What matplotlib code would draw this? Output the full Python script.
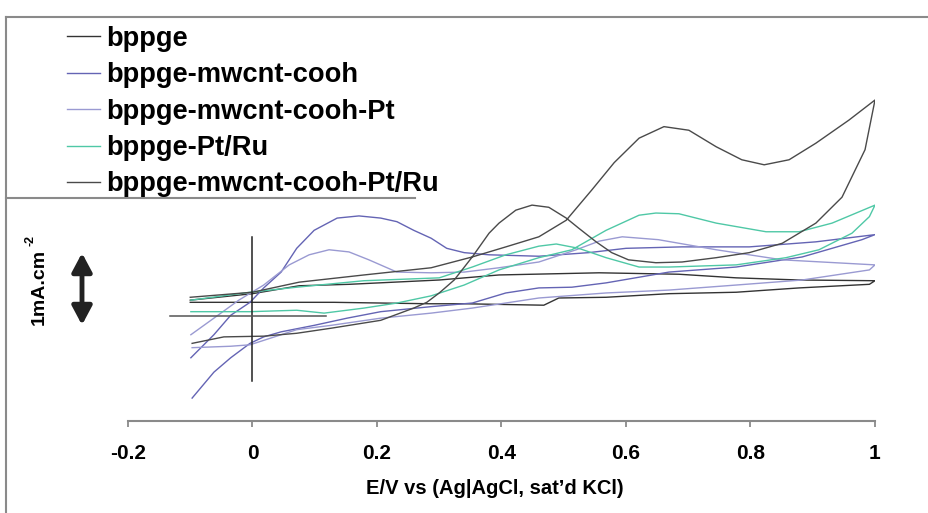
# %%
import matplotlib
matplotlib.use("Agg")
from matplotlib import pyplot as plt
from matplotlib.lines import Line2D

# %%
# cyclic voltammograms, potential in V vs Ag|AgCl, current density in mA cm-2
# each curve = forward (anodic) sweep -0.1 -> 1.0 V, then the reverse sweep back

# bppge
bppge_E = [-0.10, 0.00, 0.075, 0.155, 0.30, 0.396, 0.557, 0.685, 0.777, 0.878, 1.00,
           0.991, 0.878, 0.777, 0.669, 0.568, 0.492, 0.468, 0.34, 0.284, 0.131, -0.004, -0.10]
bppge_I = [0.22, 0.31, 0.42, 0.44, 0.50, 0.57, 0.60, 0.58, 0.53, 0.50, 0.49,
           0.44, 0.39, 0.33, 0.31, 0.26, 0.25, 0.15, 0.17, 0.17, 0.19, 0.19, 0.19]

# bppge-mwcnt-cooh
cooh_E = [-0.099, -0.062, -0.035, -0.004, 0.018, 0.046, 0.071, 0.099, 0.136, 0.171, 0.206,
          0.232, 0.259, 0.287, 0.312, 0.34, 0.38, 0.46, 0.54, 0.60, 0.69, 0.798, 0.905, 1.00,
          0.979, 0.883, 0.777, 0.669, 0.568, 0.513, 0.46, 0.407, 0.353, 0.287, 0.206, 0.152,
          0.099, 0.046, 0.018, -0.004, -0.035, -0.062, -0.097]
cooh_I = [-0.58, -0.26, 0.01, 0.19, 0.39, 0.61, 0.94, 1.19, 1.36, 1.39, 1.36,
          1.31, 1.19, 1.08, 0.94, 0.88, 0.85, 0.83, 0.88, 0.94, 0.96, 0.96, 1.03, 1.13,
          1.06, 0.82, 0.68, 0.61, 0.46, 0.40, 0.39, 0.32, 0.18, 0.13, 0.06, -0.03,
          -0.13, -0.22, -0.29, -0.38, -0.58, -0.78, -1.14]

# bppge-mwcnt-cooh-Pt
pt_E = [-0.099, -0.062, -0.022, 0.018, 0.059, 0.091, 0.123, 0.155, 0.187, 0.232, 0.287,
        0.34, 0.396, 0.46, 0.52, 0.557, 0.594, 0.652, 0.745, 0.851, 1.00,
        0.991, 0.883, 0.777, 0.669, 0.568, 0.46, 0.353, 0.287, 0.206, 0.126, 0.071,
        -0.004, -0.035, -0.097]
pt_I = [-0.26, -0.03, 0.22, 0.43, 0.71, 0.85, 0.92, 0.89, 0.78, 0.61, 0.60,
        0.61, 0.67, 0.75, 0.92, 1.04, 1.10, 1.06, 0.92, 0.78, 0.71,
        0.64, 0.50, 0.43, 0.36, 0.32, 0.25, 0.11, 0.04, -0.03, -0.13, -0.19,
        -0.40, -0.42, -0.44]

# bppge-Pt/Ru
ptru_E = [-0.099, -0.004, 0.071, 0.115, 0.179, 0.232, 0.287, 0.34, 0.396, 0.46, 0.513,
          0.568, 0.621, 0.648, 0.685, 0.745, 0.825, 0.878, 0.931, 1.00,
          0.991, 0.963, 0.91, 0.857, 0.777, 0.669, 0.621, 0.568, 0.524, 0.488, 0.46,
          0.407, 0.353, 0.30, 0.179, 0.071, -0.004, -0.099]
ptru_I = [0.06, 0.06, 0.08, 0.04, 0.11, 0.18, 0.28, 0.43, 0.64, 0.81, 0.92,
          1.19, 1.40, 1.43, 1.42, 1.29, 1.17, 1.17, 1.29, 1.54,
          1.38, 1.15, 0.92, 0.81, 0.71, 0.68, 0.68, 0.81, 0.94, 1.00, 0.97,
          0.85, 0.68, 0.53, 0.49, 0.40, 0.33, 0.22]

# bppge-mwcnt-cooh-Pt/Ru
comp_E = [-0.10, 0.00, 0.075, 0.179, 0.287, 0.353, 0.407, 0.46, 0.504, 0.545, 0.581,
          0.621, 0.661, 0.701, 0.745, 0.786, 0.822, 0.862, 0.905, 0.958, 1.00,
          0.984, 0.947, 0.905, 0.851, 0.798, 0.745, 0.69, 0.648, 0.604, 0.577, 0.552,
          0.524, 0.504, 0.476, 0.449, 0.423, 0.396, 0.38, 0.353, 0.324, 0.30, 0.28,
          0.259, 0.206, 0.126, 0.071, 0.018, -0.046, -0.097]
comp_I = [0.26, 0.33, 0.47, 0.57, 0.67, 0.82, 0.96, 1.10, 1.33, 1.75, 2.13,
          2.47, 2.63, 2.58, 2.35, 2.17, 2.10, 2.17, 2.40, 2.72, 3.00,
          2.31, 1.65, 1.29, 1.01, 0.88, 0.81, 0.75, 0.74, 0.78, 0.88, 1.03,
          1.22, 1.36, 1.51, 1.54, 1.47, 1.29, 1.15, 0.82, 0.50, 0.32, 0.19,
          0.11, -0.06, -0.17, -0.24, -0.28, -0.29, -0.38]

labels = ["bppge", "bppge-mwcnt-cooh", "bppge-mwcnt-cooh-Pt", "bppge-Pt/Ru",
          "bppge-mwcnt-cooh-Pt/Ru"]
colors = ["#333333", "#6464b4", "#9a9ad2", "#4fc8a6", "#4a4a4a"]

xticks = [-0.2, 0, 0.2, 0.4, 0.6, 0.8, 1]
xtick_labels = ["-0.2", "0", "0.2", "0.4", "0.6", "0.8", "1"]

# origin cross and the 1 mA cm-2 scale bar
cross_v = [1.10, -0.90]
cross_h = [-0.132, 0.118]
scale_bar = [-0.125, 0.875]

# %%
W, H = 929, 513
fig = plt.figure(figsize=(W / 100, H / 100), dpi=100)
ax = fig.add_axes([128 / W, (H - 421) / H, 747 / W, 404 / H])

curves = [(bppge_E, bppge_I), (cooh_E, cooh_I), (pt_E, pt_I), (ptru_E, ptru_I), (comp_E, comp_I)]
handles = []
for (E, I), c, lab in zip(curves, colors, labels):
    ln, = ax.plot(E, I, color=c, lw=1.0, label=lab)
    handles.append(ln)

ax.plot([0, 0], cross_v, color="#222222", lw=1.1)
ax.plot(cross_h, [0, 0], color="#555555", lw=1.1)

ax.set_xlim(-0.2, 1.0)
ax.set_ylim((316 - 421) / 72, (316 - 17) / 72)
for s in ["left", "top", "right"]:
    ax.spines[s].set_visible(False)
ax.spines["bottom"].set_color("#8a8a8a")
ax.spines["bottom"].set_linewidth(1.5)
ax.set_yticks([])
ax.set_xticks(xticks)
ax.set_xticklabels(xtick_labels, family="Liberation Sans", weight="bold", fontsize=15)
ax.tick_params(axis="x", direction="out", length=4, width=1.3, color="#8a8a8a", pad=12.5)
ax.patch.set_visible(False)

fig.text(495 / W, 1 - 488 / H, "E/V vs (Ag|AgCl, sat\u2019d KCl)", ha="center", va="center",
         family="Liberation Sans", weight="bold", fontsize=14.5)

# y "axis": a scale bar instead of ticks
ax.annotate("", xy=(82 / W, scale_bar[0]), xytext=(82 / W, scale_bar[1]),
            xycoords=("figure fraction", "data"), textcoords=("figure fraction", "data"),
            arrowprops=dict(arrowstyle="<|-|>,head_length=0.75,head_width=0.4", lw=3.5,
                            color="#222222", shrinkA=0, shrinkB=0, mutation_scale=15))
fig.text(39 / W, 1 - 287 / H, "1mA.cm", rotation=90, ha="center", va="center",
         family="Liberation Sans", weight="bold", fontsize=14)
fig.text(31 / W, 1 - 241 / H, "-2", rotation=90, ha="center", va="center",
         family="Liberation Sans", weight="bold", fontsize=9)

# frame lines of the original figure
fig.add_artist(Line2D([6 / W, 1], [1 - 17 / H] * 2, color="#8a8a8a", lw=1.5))
fig.add_artist(Line2D([6 / W] * 2, [0, 1 - 17 / H], color="#8a8a8a", lw=1.5))
fig.add_artist(Line2D([6 / W, 415 / W], [1 - 198 / H] * 2, color="#8a8a8a", lw=1.5))

fig.legend(handles=handles, loc="upper left", bbox_to_anchor=(67 / W, 1 - 26 / H),
           frameon=False, borderpad=0, borderaxespad=0, handlelength=1.2,
           handletextpad=0.25, labelspacing=0.38,
           prop=dict(family="Liberation Sans", weight="bold", size=19.6))

plt.savefig("out.png", dpi=100)
